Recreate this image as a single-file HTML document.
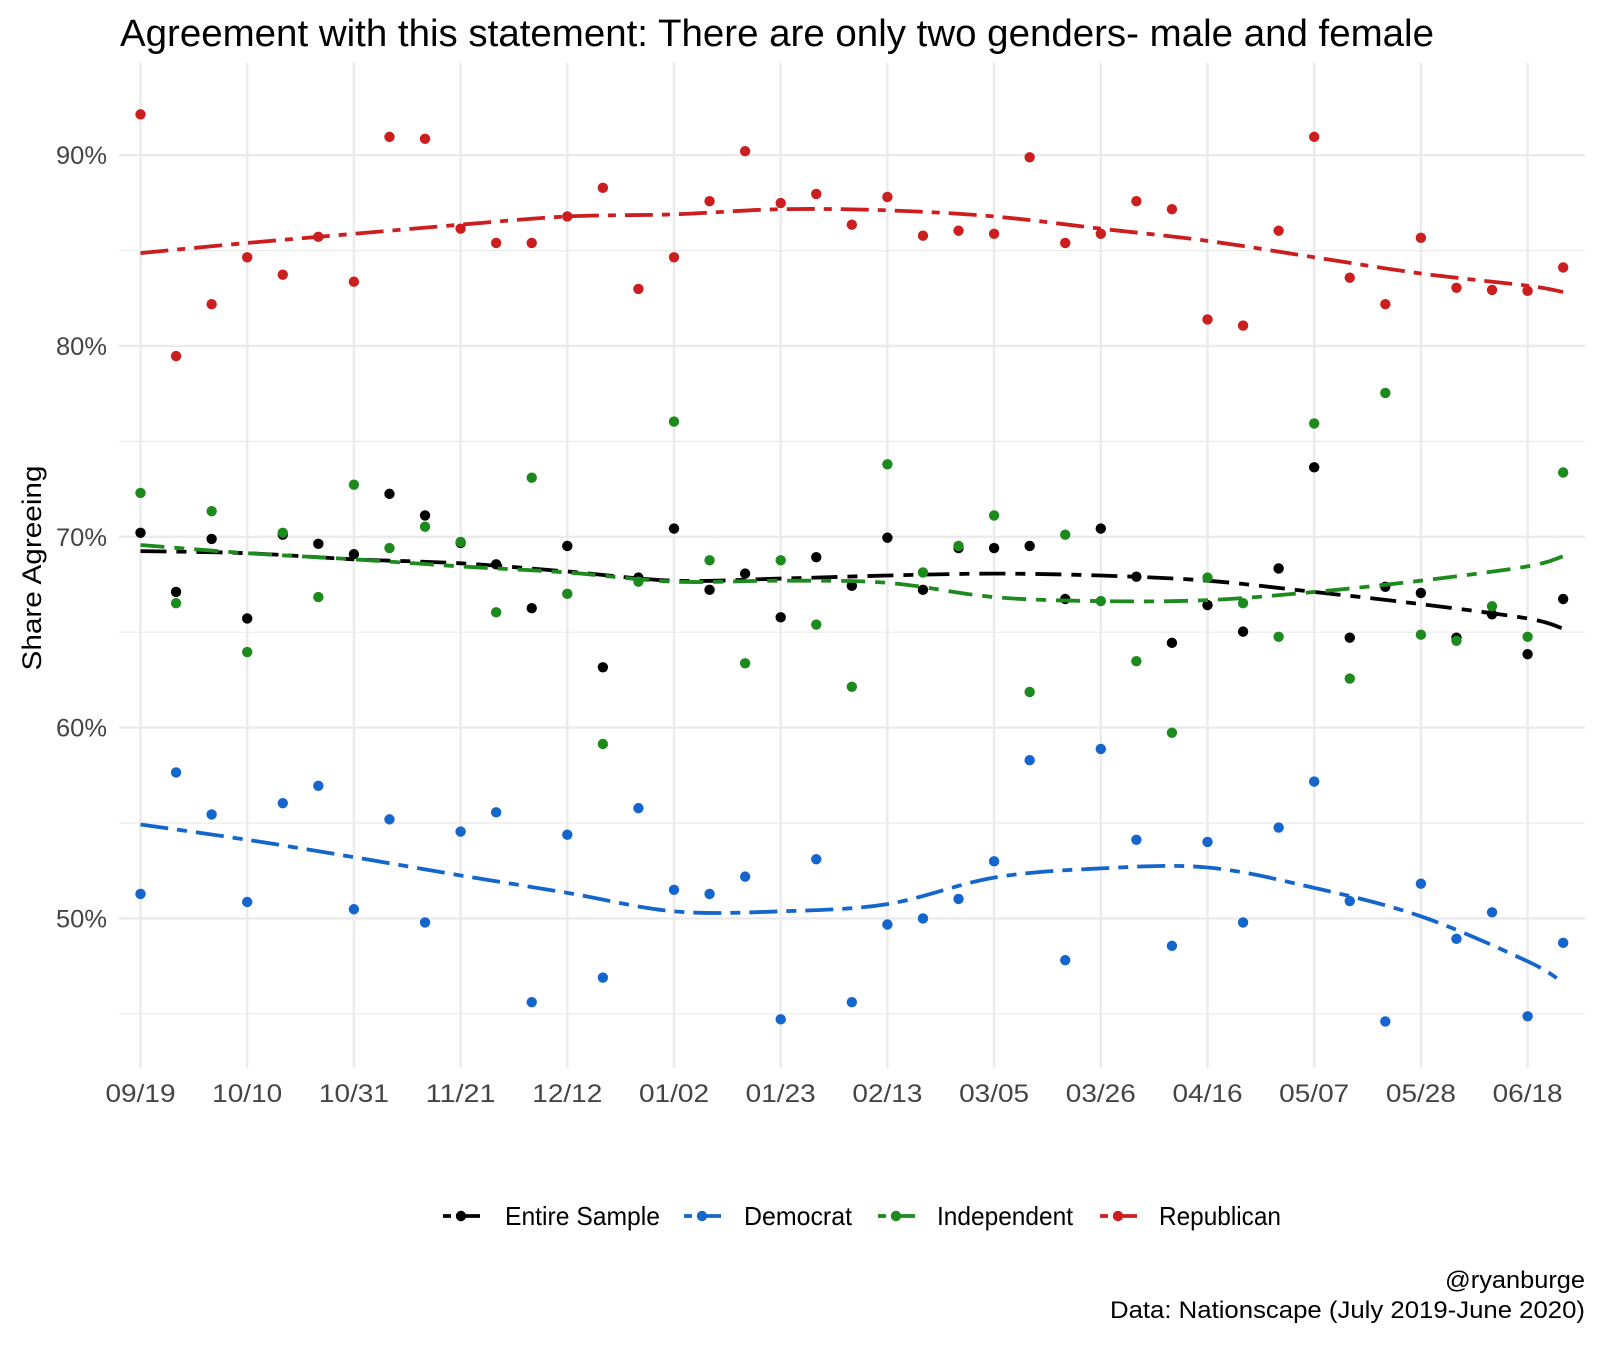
<!DOCTYPE html>
<html><head><meta charset="utf-8"><style>
html,body{margin:0;padding:0;background:#fff}
svg text{font-family:"Liberation Sans Narrow","Liberation Sans",sans-serif}
</style></head><body>
<svg id="chart" width="1600" height="1342" viewBox="0 0 1600 1342" xmlns="http://www.w3.org/2000/svg">
<rect width="1600" height="1342" fill="#fff"/>
<g id="grid"></g>
<g id="series"></g>
<text x="120" y="46" font-size="38" fill="#000" textLength="1314" lengthAdjust="spacingAndGlyphs">Agreement with this statement: There are only two genders- male and female</text>
<text transform="translate(41,568) rotate(-90)" text-anchor="middle" font-size="27" fill="#000" textLength="205" lengthAdjust="spacingAndGlyphs">Share Agreeing</text>
<g id="ylabels"></g>
<g id="xlabels"></g>
<g id="legend"></g>
<text x="1585" y="1288" text-anchor="end" font-size="24" fill="#000" textLength="140" lengthAdjust="spacingAndGlyphs">@ryanburge</text>
<text x="1585" y="1318" text-anchor="end" font-size="24" fill="#000" textLength="475" lengthAdjust="spacingAndGlyphs">Data: Nationscape (July 2019-June 2020)</text>
</svg>
<script>
const tickLabels = ["09/19","10/10","10/31","11/21","12/12","01/02","01/23","02/13","03/05","03/26","04/16","05/07","05/28","06/18"];
const yTicks = [50,60,70,80,90];
const yMinor = [45,55,65,75,85];
const republican = [92.14,79.47,82.19,84.65,83.74,85.72,83.37,90.96,90.86,86.15,85.40,85.40,86.79,88.29,82.99,84.65,87.59,90.21,87.49,87.97,86.36,87.81,85.78,86.04,85.88,89.89,85.40,85.88,87.59,87.17,81.39,81.07,86.04,90.96,83.58,82.19,85.67,83.05,82.94,82.89,84.12];
const entire = [70.21,67.11,69.89,65.72,70.11,69.63,69.09,72.25,71.12,69.68,68.56,66.26,69.52,63.16,67.86,70.43,67.22,68.07,65.78,68.93,67.43,69.95,67.22,69.41,69.41,69.52,66.74,70.43,67.91,64.44,66.42,65.03,68.34,73.64,64.71,67.38,67.06,64.71,65.94,63.85,66.74];
const independent = [72.30,66.52,71.34,63.96,70.21,66.84,72.73,69.41,70.53,69.73,66.04,73.10,67.01,59.14,67.65,76.04,68.77,63.37,68.77,65.40,62.14,73.80,68.13,69.52,71.12,61.87,70.11,66.63,63.48,59.73,67.86,66.52,64.76,75.94,62.57,77.54,64.87,64.55,66.36,64.76,73.37];
const democrat = [51.28,57.65,55.45,50.86,56.04,56.95,50.48,55.19,49.79,54.55,55.56,45.61,54.39,46.90,55.78,51.50,51.28,52.19,44.71,53.10,45.61,49.68,50.00,51.02,52.99,58.29,47.81,58.88,54.12,48.56,54.01,49.79,54.76,57.17,50.91,44.60,51.82,48.93,50.32,44.87,48.72];
// trend values at weeks 0,3,6,...,39 and 40
const trendWeeks = [0,3,6,9,12,15,18,21,24,27,30,33,36,39,40];
const trendRep = [84.87,85.40,85.88,86.36,86.79,86.90,87.17,87.11,86.79,86.15,85.51,84.65,83.80,83.16,82.83];
const trendEntire = [69.25,69.14,68.82,68.61,68.18,67.70,67.81,67.97,68.07,67.97,67.70,67.11,66.47,65.72,65.19];
const trendInd = [69.57,69.14,68.82,68.45,68.13,67.65,67.70,67.59,66.84,66.63,66.68,67.11,67.70,68.45,68.98];
const trendDem = [54.92,54.12,53.21,52.25,51.34,50.37,50.37,50.75,52.14,52.62,52.67,51.60,50.11,47.75,46.63];

const NS="http://www.w3.org/2000/svg";
const X0=140.5, WK=(1527.6-140.5)/39;
const xs = w => X0 + w*WK;
const ys = v => 918.4 - (v-50)*19.08;
const PL=119, PR=1585, PT=63, PB=1068;
function mk(tag, attrs, parent){const e=document.createElementNS(NS,tag);for(const k in attrs)e.setAttribute(k,attrs[k]);parent.appendChild(e);return e;}
const grid=document.getElementById('grid');
yMinor.forEach(v=>{const l=mk('line',{x1:PL,x2:PR,y1:ys(v),y2:ys(v),stroke:'#ebebeb','stroke-width':1.2},grid);

});
yTicks.forEach(v=>{const l=mk('line',{x1:PL,x2:PR,y1:ys(v),y2:ys(v),stroke:'#ebebeb','stroke-width':2.4},grid);

});
tickLabels.forEach((t,i)=>{const x=xs(i*3);const l=mk('line',{x1:x,x2:x,y1:PT,y2:PB,stroke:'#ebebeb','stroke-width':2.4},grid);


const tx=mk('text',{x:x,y:1102,'text-anchor':'middle','font-size':25,fill:'#444',textLength:70,lengthAdjust:'spacingAndGlyphs'},document.getElementById('xlabels'));tx.textContent=t;

});
yTicks.forEach(v=>{const tx=mk('text',{x:107,y:ys(v)+9,'text-anchor':'end','font-size':25,fill:'#444',textLength:51,lengthAdjust:'spacingAndGlyphs'},document.getElementById('ylabels'));tx.textContent=v+'%';

});

function smoothPath(ws, vs){
  const p=ws.map((w,i)=>[xs(w),ys(vs[i])]);
  let d='M'+p[0][0]+','+p[0][1];
  for(let i=0;i<p.length-1;i++){
    const p0=p[i-1]||p[i],p1=p[i],p2=p[i+1],p3=p[i+2]||p2;
    const c1=[p1[0]+(p2[0]-p0[0])/6,p1[1]+(p2[1]-p0[1])/6];
    const c2=[p2[0]-(p3[0]-p1[0])/6,p2[1]-(p3[1]-p1[1])/6];
    d+=' C'+c1[0]+','+c1[1]+' '+c2[0]+','+c2[1]+' '+p2[0]+','+p2[1];
  }
  return d;
}
const series=document.getElementById('series');
const defs=[
 {name:'republican',color:'#cc1e1e',pts:republican,tr:trendRep,dash:'28 9 8 9'},
 {name:'entire-sample',color:'#000000',pts:entire,tr:trendEntire,dash:'26 10 10 10'},
 {name:'independent',color:'#1d8a1d',pts:independent,tr:trendInd,dash:'24 10 10 10'},
 {name:'democrat',color:'#1466cc',pts:democrat,tr:trendDem,dash:'28 9 10 9'}
];
defs.forEach(s=>{
  const g=mk('g',{},series);
  
  
  s.pts.forEach((v,i)=>{const c=mk('circle',{cx:xs(i),cy:ys(v),r:5.2,fill:s.color},g);
    
    });
  const p=mk('path',{d:smoothPath(trendWeeks,s.tr),fill:'none',stroke:s.color,'stroke-width':3.8,'stroke-dasharray':s.dash},g);
  
  
});
const legend=document.getElementById('legend');
const legItems=[['Entire Sample','#000',443,505,155],['Democrat','#1466cc',684,744,108],['Independent','#1d8a1d',878,937,136],['Republican','#cc1e1e',1100,1159,122]];
legItems.forEach(it=>{
  const g=mk('g',{},legend);
  
  
  mk('line',{x1:it[2],x2:it[2]+37,y1:1216,y2:1216,stroke:it[1],'stroke-width':3.8,'stroke-dasharray':'8 5 24'},g);
  mk('circle',{cx:it[2]+18,cy:1216,r:5.2,fill:it[1]},g);
  const t=mk('text',{x:it[3],y:1225,'font-size':26,fill:'#000',textLength:it[4],lengthAdjust:'spacingAndGlyphs'},g);
  t.textContent=it[0];
});
</script>
</body></html>
